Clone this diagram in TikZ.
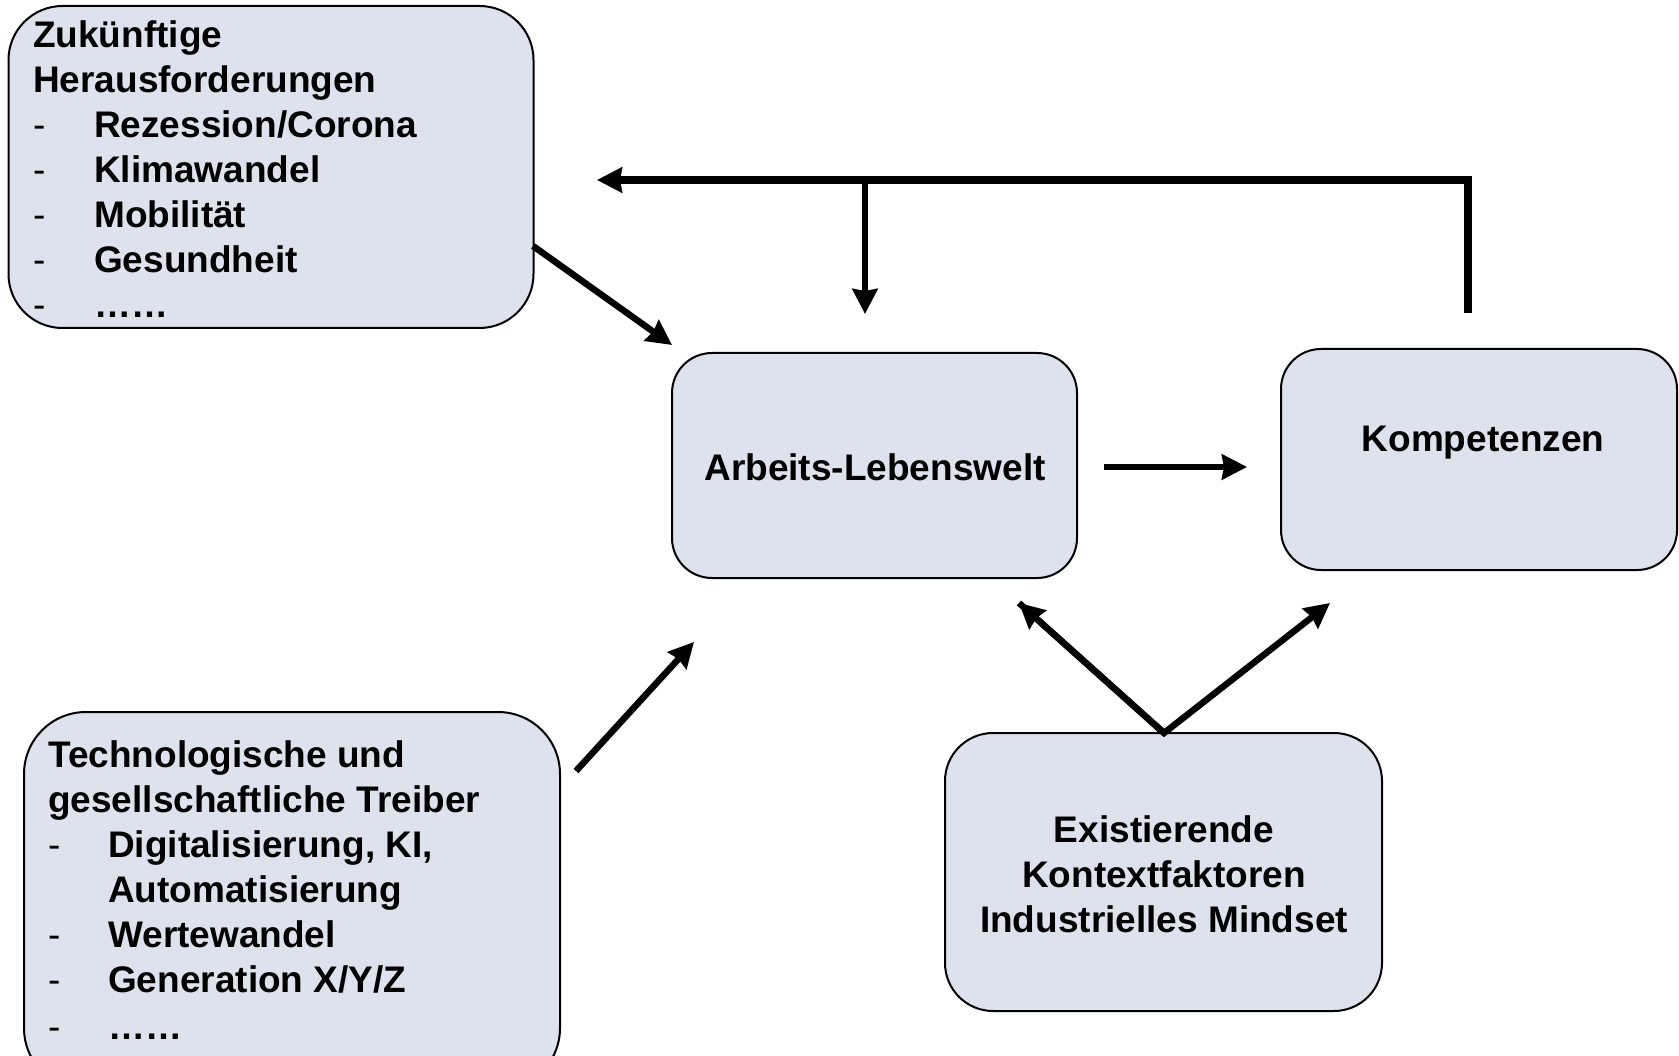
\documentclass[tikz,border=0pt]{standalone}
\usepackage{fontspec}
\setmainfont{Liberation Sans}
\usetikzlibrary{arrows.meta}
\definecolor{boxfill}{RGB}{222,226,237}
\begin{document}
\begin{tikzpicture}[x=1pt,y=-1pt,
  box/.style={draw=black, line width=2pt, fill=boxfill, inner sep=0pt},
  txt/.style={inner sep=0pt, font=\fontsize{37}{45}\selectfont\bfseries},
  dsh/.style={inner sep=0pt, font=\fontsize{37}{45}\selectfont},
  arr/.style={line width=6.5pt, -{Stealth[length=25pt,width=25pt,inset=2pt]}},
]
\useasboundingbox (0,0) rectangle (1679,1056);

% boxes
\node[box, minimum width=525pt, minimum height=322pt, rounded corners=54pt] (zuk) at (271,167) {};
\node[box, minimum width=405pt, minimum height=225pt, rounded corners=40pt] (arb) at (874.5,465.5) {};
\node[box, minimum width=396pt, minimum height=221pt, rounded corners=40pt] (kom) at (1479,459.5) {};
\node[box, minimum width=536pt, minimum height=378pt, rounded corners=62pt] (tec) at (292,901) {};
\node[box, minimum width=437pt, minimum height=278pt, rounded corners=48pt] (exi) at (1163.5,872) {};

% texts box 1
\node[txt, anchor=base west] (z1) at (33,48) {Zukünftige};
\node[txt, anchor=base west] (z2) at (33,93) {Herausforderungen};
\node[dsh, anchor=base west] (z3d) at (33,138) {-};
\node[txt, anchor=base west] (z3) at (94,138) {Rezession/Corona};
\node[dsh, anchor=base west] (z4d) at (33,183) {-};
\node[txt, anchor=base west] (z4) at (94,183) {Klimawandel};
\node[dsh, anchor=base west] (z5d) at (33,228) {-};
\node[txt, anchor=base west] (z5) at (94,228) {Mobilität};
\node[dsh, anchor=base west] (z6d) at (33,273) {-};
\node[txt, anchor=base west] (z6) at (94,273) {Gesundheit};
\node[dsh, anchor=base west] (z7d) at (33,318) {-};
\node[txt, anchor=base west] (z7) at (94,318) {……};

% texts tech box
\node[txt, anchor=base west] (t1) at (48,767) {Technologische und};
\node[txt, anchor=base west] (t2) at (48,812) {gesellschaftliche Treiber};
\node[dsh, anchor=base west] (t3d) at (48,857) {-};
\node[txt, anchor=base west] (t3) at (108,857) {Digitalisierung, KI,};
\node[txt, anchor=base west] (t4) at (108,902) {Automatisierung};
\node[dsh, anchor=base west] (t5d) at (48,947) {-};
\node[txt, anchor=base west] (t5) at (108,947) {Wertewandel};
\node[dsh, anchor=base west] (t6d) at (48,992) {-};
\node[txt, anchor=base west] (t6) at (108,992) {Generation X/Y/Z};
\node[dsh, anchor=base west] (t7d) at (48,1039) {-};
\node[txt, anchor=base west] (t7) at (108,1039) {……};

% other texts
\node[txt, anchor=base] (arbt) at (875,480) {Arbeits-Lebenswelt};
\node[txt, anchor=base] (komt) at (1483,451) {Kompetenzen};
\node[txt, anchor=base] (ex1) at (1164,842) {Existierende};
\node[txt, anchor=base] (ex2) at (1164,887) {Kontextfaktoren};
\node[txt, anchor=base] (ex3) at (1164,932) {Industrielles Mindset};

% connector coordinates
\coordinate (a1s) at (533,246);
\coordinate (a1e) at (672,345);
\coordinate (tops) at (1468,313);
\coordinate (topc) at (1468,180);
\coordinate (tope) at (597,180);
\coordinate (dns) at (865,180);
\coordinate (dne) at (865,314);
\coordinate (hs) at (1104,467);
\coordinate (he) at (1247,467);
\coordinate (ts) at (576,771);
\coordinate (te) at (694,642);
\coordinate (es) at (1164,733);
\coordinate (el) at (1019,603);
\coordinate (er) at (1330,603);

% arrows
\draw[arr] (a1s) -- (a1e);
\draw[arr, line width=8.5pt, line join=miter] (tops) -- (topc) -- (tope);
\draw[arr, line width=6.5pt] (dns) -- (dne);
\draw[arr] (hs) -- (he);
\draw[arr] (ts) -- (te);
\draw[arr, line join=miter] (el) -- (es) -- (er);
\draw[arr] (es) -- (el);
\end{tikzpicture}
\end{document}
